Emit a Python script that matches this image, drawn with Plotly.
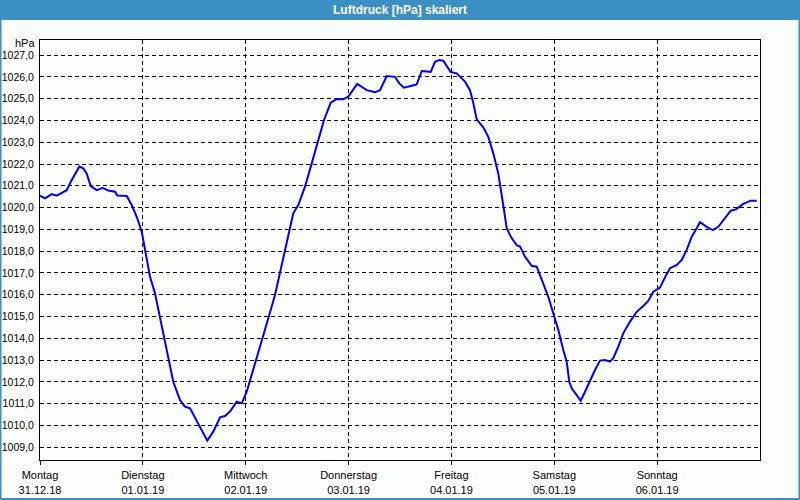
import plotly.graph_objects as go

# hours since Monday 31.12.18 00:00
hours = [0.0, 1.17, 2.73, 3.9, 6.23, 7.4, 9.17, 10.1, 10.9, 11.83, 13.23, 14.63, 15.93, 17.5, 18.03,
         20.23, 21.4, 22.57, 23.73, 24.5, 25.67, 26.83, 28.0, 29.17, 30.33, 31.1, 32.67, 33.83, 35.0,
         37.33, 39.03, 40.43, 42.0, 43.17, 44.33, 45.9, 47.07, 48.23, 49.77, 51.73, 53.27, 54.83, 56.0,
         57.17, 58.17, 59.1, 60.27, 61.83, 63.4, 64.93, 66.27, 67.83, 69.23, 70.77, 71.93, 74.03, 76.23,
         78.17, 79.33, 80.9, 82.83, 83.83, 84.93, 86.73, 87.9, 89.07, 91.17, 92.17, 93.17, 94.1, 95.83,
         97.23, 99.17, 100.33, 101.1, 101.9, 103.43, 104.6, 105.77, 106.93, 107.73, 108.27, 108.9, 110.07,
         111.23, 112.0, 113.17, 114.73, 115.9, 117.43, 118.6, 119.77, 120.93, 122.1, 122.9, 123.5, 124.07,
         125.23, 126.17, 127.17, 128.33, 129.5, 130.67, 131.83, 133.0, 133.77, 134.93, 136.1, 137.67,
         139.23, 140.77, 141.93, 143.1, 144.67, 145.83, 147.0, 148.57, 149.73, 150.9, 152.07, 153.23,
         154.0, 155.57, 156.97, 158.27, 159.83, 161.17, 162.4, 164.1, 165.83, 167.23]
pressure = [1020.55, 1020.42, 1020.62, 1020.55, 1020.8, 1021.27, 1021.88, 1021.8, 1021.57, 1020.99, 1020.8,
            1020.91, 1020.78, 1020.73, 1020.55, 1020.53, 1020.12, 1019.58, 1018.9, 1018.06, 1016.83, 1016.07,
            1015.0, 1013.78, 1012.86, 1012.01, 1011.17, 1010.87, 1010.79, 1009.95, 1009.31, 1009.72, 1010.38,
            1010.44, 1010.64, 1011.1, 1011.02, 1011.55, 1012.55, 1013.93, 1014.92, 1015.99, 1016.99, 1018.06,
            1018.97, 1019.74, 1020.12, 1020.96, 1022.03, 1023.1, 1024.02, 1024.81, 1024.98, 1024.97, 1025.09,
            1025.68, 1025.39, 1025.29, 1025.39, 1026.04, 1026.0, 1025.7, 1025.5, 1025.59, 1025.65, 1026.27,
            1026.23, 1026.69, 1026.77, 1026.74, 1026.22, 1026.16, 1025.78, 1025.39, 1024.8, 1024.05, 1023.68,
            1023.25, 1022.49, 1021.57, 1020.66, 1019.89, 1019.05, 1018.59, 1018.28, 1018.21, 1017.75, 1017.33,
            1017.29, 1016.53, 1015.91, 1015.15, 1014.39, 1013.47, 1012.93, 1012.01, 1011.71, 1011.4, 1011.14,
            1011.55, 1012.09, 1012.55, 1012.98, 1013.01, 1012.93, 1013.09, 1013.62, 1014.23, 1014.77, 1015.22,
            1015.49, 1015.72, 1016.14, 1016.33, 1016.8, 1017.22, 1017.37, 1017.6, 1018.06, 1018.67, 1019.05,
            1019.33, 1019.12, 1018.97, 1019.12, 1019.51, 1019.86, 1019.92, 1020.17, 1020.32, 1020.32]

day_ticks = [0, 24, 48, 72, 96, 120, 144]
day_names = ["Montag", "Dienstag", "Mittwoch", "Donnerstag", "Freitag", "Samstag", "Sonntag"]
day_dates = ["31.12.18", "01.01.19", "02.01.19", "03.01.19", "04.01.19", "05.01.19", "06.01.19"]
y_ticks = list(range(1009, 1028))

title = "Luftdruck [hPa] skaliert"
unit = "hPa"

W, H = 800, 500
L, R, T, B = 40, 40, 40, 40
pw, ph = W - L - R, H - T - B

def px(x):
    return (x - L) / pw

def py(y):
    return (H - B - y) / ph

BLUE = "#3C8FC2"
FONT = "Liberation Sans"

fig = go.Figure()
fig.add_trace(go.Scatter(x=hours, y=pressure, mode="lines",
                         line=dict(color="#0000F0", width=2), hoverinfo="skip"))

fig.update_layout(
    width=W, height=H,
    margin=dict(l=L, r=R, t=T, b=B),
    paper_bgcolor="#FCFEFC", plot_bgcolor="#FCFEFC",
    showlegend=False,
    separators=",.",
    font=dict(family=FONT, size=11, color="black"),
    xaxis=dict(range=[0, 168], tickvals=day_ticks,
               ticktext=[f"{n}<br>{d}" for n, d in zip(day_names, day_dates)],
               showgrid=True, gridcolor="black", griddash="4px,3px", gridwidth=1,
               showline=True, linecolor="black", linewidth=1, mirror=True,
               ticks="outside", ticklen=4, tickcolor="black", zeroline=False,
               ticklabelstandoff=1, automargin=False,
               tickfont=dict(family=FONT, size=11)),
    yaxis=dict(range=[1008.42, 1027.69], tickvals=y_ticks, tickformat=".1f",
               showgrid=True, gridcolor="black", griddash="4px,3px", gridwidth=1,
               showline=True, linecolor="black", linewidth=1, mirror=True,
               ticks="", ticklabelstandoff=3, zeroline=False, automargin=False,
               tickfont=dict(family=FONT, size=10.5)),
    shapes=[
        dict(type="rect", xref="paper", yref="paper", x0=px(0), x1=px(W), y0=py(20), y1=py(0),
             fillcolor=BLUE, line=dict(width=0), layer="above"),
        dict(type="rect", xref="paper", yref="paper", x0=px(0.5), x1=px(W - 0.5), y0=py(H - 1), y1=py(0),
             fillcolor="rgba(0,0,0,0)", line=dict(color=BLUE, width=2), layer="above"),
    ],
    annotations=[
        dict(text=f"<b>{title}</b>", xref="paper", yref="paper", x=px(W / 2), y=py(10),
             xanchor="center", yanchor="middle", showarrow=False,
             font=dict(family="Liberation Sans Narrow, " + FONT, size=12, color="white")),
        dict(text=unit, xref="paper", yref="paper", x=px(37), y=py(43),
             xanchor="right", yanchor="middle", showarrow=False,
             font=dict(family=FONT, size=11, color="black")),
    ],
)

fig.write_html("out.html")
